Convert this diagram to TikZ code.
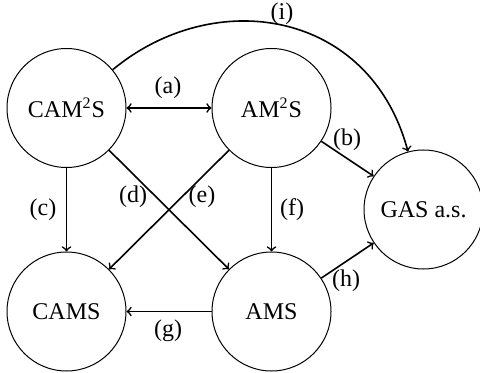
\documentclass[tikz,border=0pt]{standalone}
\usepackage{fontspec}
\setmainfont{Liberation Serif}
\begin{document}
\begin{tikzpicture}[x=0.5pt,y=-0.5pt,
  state/.style={draw, circle, line width=0.5pt, minimum size=59.5pt, inner sep=0pt, font=\fontsize{12}{14}\selectfont},
  lbl/.style={inner sep=0pt, font=\fontsize{12}{14}\selectfont},
  edge/.style={->, line width=0.8pt}]
\useasboundingbox (0,0) rectangle (480,373);
% the five states
\node[state] (cam2s) at (66.5,108) {CAM\textsuperscript{2}S};
\node[state] (am2s)  at (271.5,108) {AM\textsuperscript{2}S};
\node[state] (gas)   at (423.5,209.5) {GAS a.s.};
\node[state] (cams)  at (66.5,311.5) {CAMS};
\node[state] (ams)   at (271.5,311.5) {AMS};
% implications
\draw[edge,<->] (cam2s) -- (am2s);
\draw[edge] (am2s) -- (gas);
\draw[edge] (cam2s) -- (cams);
\draw[edge] (am2s) -- (cams);
\draw[edge] (cam2s) -- (ams);
\draw[edge] (am2s) -- (ams);
\draw[edge] (ams) -- (cams);
\draw[edge] (ams) -- (gas);
\draw[edge] (cam2s) .. controls (215,-15) and (370,10) .. (gas);
% edge labels
\node[lbl] (la) at (168,88)  {(a)};
\node[lbl] (lb) at (347,140) {(b)};
\node[lbl] (lc) at (43,210)  {(c)};
\node[lbl] (ld) at (133,197) {(d)};
\node[lbl] (le) at (202,197) {(e)};
\node[lbl] (lf) at (292,210) {(f)};
\node[lbl] (lg) at (168,331) {(g)};
\node[lbl] (lh) at (346,281) {(h)};
\node[lbl] (li) at (282,14)  {(i)};
\end{tikzpicture}
\end{document}
